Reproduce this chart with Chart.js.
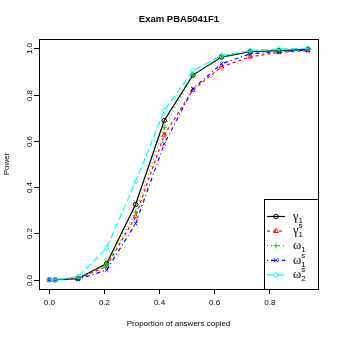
<!DOCTYPE html>
<html>
<head>
<meta charset="utf-8">
<script src="https://cdn.jsdelivr.net/npm/chart.js@4/dist/chart.umd.min.js"></script>
<style>
  html, body { margin: 0; padding: 0; background: #fff; }
  canvas { display: block; }
</style>
</head>
<body>
<canvas id="powerChart" width="339" height="339"></canvas>
<script>
// proportion of answers copied (k / 48 items)
const copiedProportion = [0, 0.021, 0.104, 0.208, 0.313, 0.417, 0.521, 0.625, 0.729, 0.833, 0.938];

// power of each index
const gamma1  = [0, 0, 0.005, 0.070, 0.325, 0.688, 0.884, 0.962, 0.985, 0.990, 0.995];
const gamma1s = [0, 0, 0.004, 0.058, 0.273, 0.626, 0.820, 0.920, 0.963, 0.982, 0.990];
const omega1  = [0, 0, 0.006, 0.065, 0.292, 0.658, 0.884, 0.962, 0.987, 0.990, 0.995];
const omega1s = [0, 0, 0.002, 0.042, 0.242, 0.587, 0.825, 0.933, 0.976, 0.985, 0.992];
const omega2s = [0, 0, 0.013, 0.138, 0.423, 0.731, 0.903, 0.969, 0.990, 0.997, 1.000];

const xTicks = [0, 0.2, 0.4, 0.6, 0.8];
const yTicks = [0, 0.2, 0.4, 0.6, 0.8, 1.0];

// legend text: greek letter, subscript, superscript
const legendSymbols = ['γ', 'γ', 'ω', 'ω', 'ω'];
const legendSubs    = ['1', '1', '1', '1', '2'];
const legendSups    = ['', 's', '', 's', 's'];

const seriesStyles = [
  { color: '#000000', dash: [],           point: 'circle'   },
  { color: '#FF0000', dash: [3, 3],       point: 'triangle' },
  { color: '#00CD00', dash: [1, 3],       point: 'cross'    },
  { color: '#0000FF', dash: [1, 3, 4, 3], point: 'crossRot' },
  { color: '#00FFFF', dash: [7, 3],       point: 'rectRot'  }
];

function toPoints(xs, ys) {
  return xs.map((x, i) => ({ x: x, y: ys[i] }));
}

const allSeries = [gamma1, gamma1s, omega1, omega1s, omega2s];

const datasets = allSeries.map((ys, i) => ({
  label: legendSymbols[i] + legendSubs[i] + legendSups[i],
  data: toPoints(copiedProportion, ys),
  borderColor: seriesStyles[i].color,
  borderWidth: 1.2,
  borderDash: seriesStyles[i].dash,
  pointStyle: seriesStyles[i].point,
  pointRadius: seriesStyles[i].point === 'circle' ? 2.2 : 2.6,
  pointBorderWidth: 1,
  pointBorderColor: seriesStyles[i].color,
  pointBackgroundColor: 'rgba(0,0,0,0)',
  tension: 0,
  order: allSeries.length - i  // later series drawn on top, like R
}));

function drawMarker(ctx, style, x, y, r) {
  ctx.beginPath();
  if (style === 'circle') {
    ctx.arc(x, y, 2.3, 0, Math.PI * 2);
  } else if (style === 'triangle') {
    ctx.moveTo(x, y - r);
    ctx.lineTo(x + r * 0.87, y + r * 0.5);
    ctx.lineTo(x - r * 0.87, y + r * 0.5);
    ctx.closePath();
  } else if (style === 'cross') {
    ctx.moveTo(x - r, y); ctx.lineTo(x + r, y);
    ctx.moveTo(x, y - r); ctx.lineTo(x, y + r);
  } else if (style === 'crossRot') {
    const d = r * 0.7;
    ctx.moveTo(x - d, y - d); ctx.lineTo(x + d, y + d);
    ctx.moveTo(x - d, y + d); ctx.lineTo(x + d, y - d);
  } else if (style === 'rectRot') {
    ctx.moveTo(x, y - r); ctx.lineTo(x + r, y);
    ctx.lineTo(x, y + r); ctx.lineTo(x - r, y);
    ctx.closePath();
  }
  ctx.stroke();
}

// R-like frame: box, rotated y labels, main title and legend
const rFrame = {
  id: 'rFrame',
  afterDraw(chart) {
    const ctx = chart.ctx;
    const a = chart.chartArea;
    const yScale = chart.scales.y;
    ctx.save();
    ctx.strokeStyle = '#000';
    ctx.lineWidth = 1;
    ctx.setLineDash([]);
    ctx.strokeRect(Math.round(a.left) + 0.5, Math.round(a.top) + 0.5,
                   Math.round(a.right - a.left), Math.round(a.bottom - a.top));

    // y tick marks and labels, parallel to the axis
    ctx.fillStyle = '#000';
    ctx.font = '8px "Liberation Sans", Arial, sans-serif';
    ctx.textAlign = 'center';
    ctx.textBaseline = 'middle';
    yScale.ticks.forEach(t => {
      const py = Math.round(yScale.getPixelForValue(t.value)) + 0.5;
      ctx.beginPath();
      ctx.moveTo(Math.round(a.left) + 0.5, py);
      ctx.lineTo(Math.round(a.left) - 5, py);
      ctx.stroke();
      ctx.save();
      ctx.translate(30, py);
      ctx.rotate(-Math.PI / 2);
      ctx.fillText(t.value.toFixed(1), 0, 0);
      ctx.restore();
    });

    // main title
    ctx.font = 'bold 9.5px "Liberation Sans", Arial, sans-serif';
    ctx.fillText('Exam PBA5041F1', 179, 19.5);

    // legend box, bottom right
    const boxLeft = 264, boxTop = 199;
    ctx.fillStyle = '#fff';
    ctx.fillRect(boxLeft, boxTop, a.right - boxLeft, a.bottom - boxTop);
    ctx.strokeRect(boxLeft + 0.5, boxTop + 0.5, a.right - boxLeft, a.bottom - boxTop);

    seriesStyles.forEach((s, i) => {
      const y = 216.5 + i * 14.6;
      ctx.strokeStyle = s.color;
      ctx.lineWidth = 1.2;
      ctx.setLineDash(s.dash);
      ctx.beginPath();
      ctx.moveTo(267, y);
      ctx.lineTo(285, y);
      ctx.stroke();
      ctx.setLineDash([]);
      ctx.lineWidth = 1;
      drawMarker(ctx, s.point, 276, y, 2.8);

      ctx.fillStyle = '#000';
      ctx.textAlign = 'left';
      ctx.textBaseline = 'middle';
      ctx.font = '12.5px "Liberation Serif", "DejaVu Serif", serif';
      ctx.fillText(legendSymbols[i], 293, y);
      const w = ctx.measureText(legendSymbols[i]).width;
      ctx.font = '8px "Liberation Sans", Arial, sans-serif';
      ctx.fillText(legendSubs[i], 293 + w, y + 4);
      if (legendSups[i]) ctx.fillText(legendSups[i], 293 + w, y - 5);
    });
    ctx.restore();
  }
};

new Chart(document.getElementById('powerChart'), {
  type: 'line',
  data: { datasets: datasets },
  options: {
    responsive: false,
    animation: false,
    events: [],
    layout: { padding: { top: 39, right: 21, left: 0, bottom: 0 } },
    plugins: {
      legend: { display: false },
      title: { display: false },
      tooltip: { enabled: false }
    },
    scales: {
      x: {
        type: 'linear',
        min: -0.0375,
        max: 0.975,
        afterBuildTicks: scale => { scale.ticks = xTicks.map(v => ({ value: v })); },
        afterFit: scale => { scale.height = 50; },
        ticks: {
          callback: v => v.toFixed(1),
          color: '#000',
          font: { family: '"Liberation Sans", Arial, sans-serif', size: 8 },
          padding: 4,
          maxRotation: 0,
          autoSkip: false
        },
        grid: { drawOnChartArea: false, drawTicks: true, tickLength: 5, color: '#000' },
        border: { display: false },
        title: {
          display: true,
          text: 'Proportion of answers copied',
          color: '#000',
          font: { family: '"Liberation Sans", Arial, sans-serif', size: 8 },
          padding: { top: 0, bottom: 10 }
        }
      },
      y: {
        type: 'linear',
        min: -0.04,
        max: 1.04,
        afterBuildTicks: scale => { scale.ticks = yTicks.map(v => ({ value: v })); },
        afterFit: scale => { scale.width = 39; },
        ticks: { display: false },
        grid: { display: false },
        border: { display: false },
        title: {
          display: true,
          text: 'Power',
          color: '#000',
          font: { family: '"Liberation Sans", Arial, sans-serif', size: 8 },
          padding: { top: 2, bottom: 0 }
        }
      }
    }
  },
  plugins: [rFrame]
});
</script>
</body>
</html>
